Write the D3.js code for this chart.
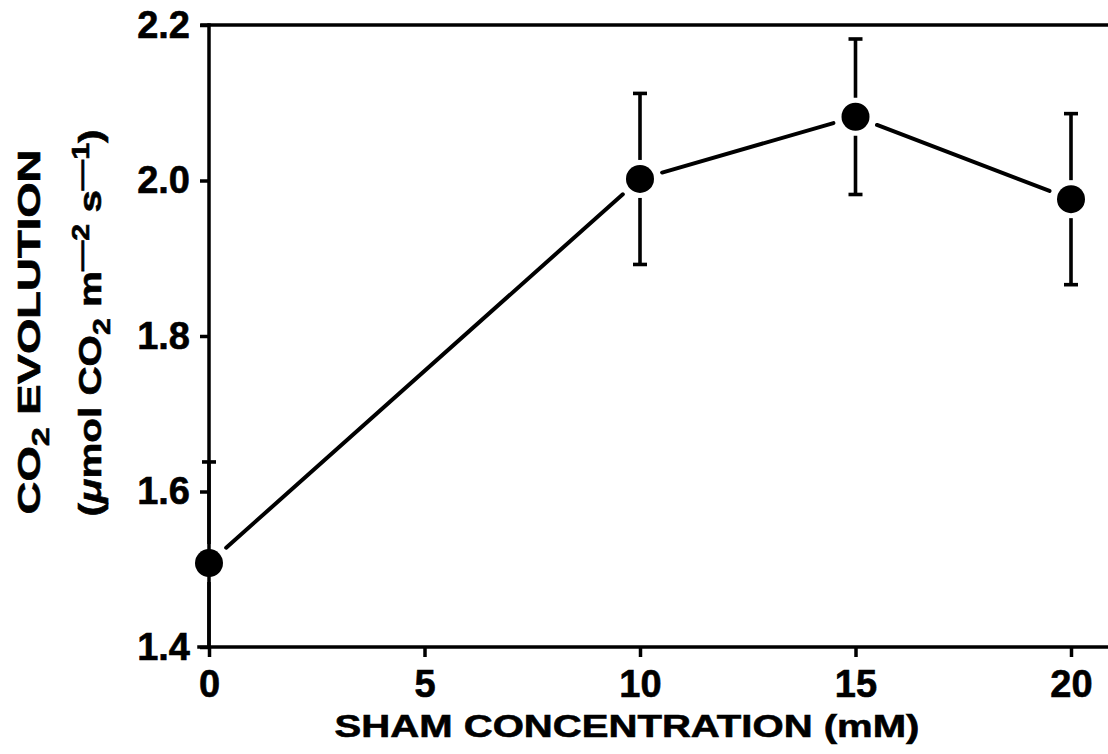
<!DOCTYPE html>
<html>
<head>
<meta charset="utf-8">
<script src="https://cdn.jsdelivr.net/npm/d3@7"></script>
<style>
  html, body { margin: 0; padding: 0; background: #fff; }
  svg { display: block; }
  text { font-family: "Liberation Sans", Arial, Helvetica, sans-serif; font-weight: bold; fill: #000; stroke: #000; stroke-width: 0.6px; }
</style>
</head>
<body>
<svg id="chart" width="1108" height="754"></svg>
<script>
// ---- data ----
const shamConc = [0, 10, 15, 20];
const co2Evolution = [1.508, 2.002, 2.082, 1.976];
const co2Error = [0.13, 0.11, 0.10, 0.11];
const xTickValues = [0, 5, 10, 15, 20];
const yTickValues = [1.4, 1.6, 1.8, 2.0, 2.2];
const xTitle = "SHAM CONCENTRATION (mM)";

// ---- layout ----
const W = 1108, H = 754;
const svg = d3.select("#chart");
const x = d3.scaleLinear().domain([0, 20]).range([209, 1071]);
const y = d3.scaleLinear().domain([1.4, 2.2]).range([647, 25]);
const axisStroke = 3.5;

// axes
const gx = svg.append("g").attr("transform", `translate(0,${y(1.4)})`)
  .call(d3.axisBottom(x).tickValues(xTickValues).tickSize(10).tickPadding(13).tickFormat(d3.format("d")));
const gy = svg.append("g").attr("transform", `translate(${x(0)},0)`)
  .call(d3.axisLeft(y).tickValues(yTickValues).tickSize(9).tickPadding(10).tickFormat(d3.format(".1f")));
[gx, gy].forEach(g => {
  g.select(".domain").remove();
  g.selectAll(".tick line").attr("stroke", "#000").attr("stroke-width", axisStroke);
  g.selectAll(".tick text").attr("font-size", 38).attr("fill", "#000");
});

// frame lines (bottom, top, left)
const frame = svg.append("g").attr("stroke", "#000").attr("stroke-width", axisStroke).attr("stroke-linecap", "square");
frame.append("line").attr("x1", x(0) - 10).attr("x2", W).attr("y1", y(1.4)).attr("y2", y(1.4));
frame.append("line").attr("x1", x(0) - 7).attr("x2", W).attr("y1", y(2.2)).attr("y2", y(2.2));
frame.append("line").attr("x1", x(0)).attr("x2", x(0)).attr("y1", y(2.2)).attr("y2", y(1.4));

// data points
const pts = shamConc.map((c, i) => ({ px: x(c), py: y(co2Evolution[i]), v: co2Evolution[i], e: co2Error[i] }));

// connecting line segments with gaps around markers
const lineGap = 23;
const seg = svg.append("g").attr("stroke", "#000").attr("stroke-width", 4).attr("stroke-linecap", "round");
for (let i = 0; i < pts.length - 1; i++) {
  const a = pts[i], b = pts[i + 1];
  const dx = b.px - a.px, dy = b.py - a.py, L = Math.hypot(dx, dy);
  const ux = dx / L, uy = dy / L;
  seg.append("line")
    .attr("x1", a.px + ux * lineGap).attr("y1", a.py + uy * lineGap)
    .attr("x2", b.px - ux * lineGap).attr("y2", b.py - uy * lineGap);
}

// error bars
const errGap = 19, capHalf = 7;
const eb = svg.append("g").attr("stroke", "#000").attr("stroke-width", 3.6);
pts.forEach(p => {
  const yTop = y(p.v + p.e);
  const yBotRaw = y(p.v - p.e);
  const yBot = Math.min(yBotRaw, y(1.4));
  eb.append("line").attr("x1", p.px).attr("x2", p.px).attr("y1", yTop).attr("y2", p.py - errGap);
  eb.append("line").attr("x1", p.px).attr("x2", p.px).attr("y1", p.py + errGap).attr("y2", yBot);
  eb.append("line").attr("x1", p.px - capHalf).attr("x2", p.px + capHalf).attr("y1", yTop).attr("y2", yTop);
  if (yBotRaw <= y(1.4)) {
    eb.append("line").attr("x1", p.px - capHalf).attr("x2", p.px + capHalf).attr("y1", yBot).attr("y2", yBot);
  }
});

// markers
svg.append("g").selectAll("circle").data(pts).join("circle")
  .attr("cx", d => d.px).attr("cy", d => d.py).attr("r", 14).attr("fill", "#000");

// helper: horizontal stretch factor to reach a target length
function stretch(textSel, target) {
  const w = textSel.node().getBBox().width;
  return w > 0 ? target / w : 1;
}

// x axis title
{
  const g = svg.append("g");
  const t = g.append("text").attr("text-anchor", "middle").attr("font-size", 32).text(xTitle);
  const sx = stretch(t, 585);
  g.attr("transform", `translate(627,737) scale(${sx},1)`);
}

// y axis title line 1: CO2 EVOLUTION
{
  const g = svg.append("g");
  const t = g.append("text").attr("text-anchor", "middle").attr("font-size", 32);
  t.append("tspan").text("CO");
  t.append("tspan").attr("font-size", 24).attr("dy", 9).text("2");
  t.append("tspan").attr("dy", -9).text(" EVOLUTION");
  const sx = stretch(t, 365);
  g.attr("transform", `translate(40,332) rotate(-90) scale(${sx},1)`);
}

// y axis title line 2: (μmol CO2 m−2 s−1)
{
  const g = svg.append("g");
  const t = g.append("text").attr("text-anchor", "middle").attr("font-size", 32);
  t.append("tspan").text("(");
  t.append("tspan").attr("font-style", "italic").text("\u03BC");
  t.append("tspan").text("mol CO");
  t.append("tspan").attr("font-size", 24).attr("dy", 9).text("2");
  t.append("tspan").attr("dy", -9).text(" m");
  t.append("tspan").attr("font-size", 24).attr("dy", -12).text("\u2014");
  t.append("tspan").attr("font-size", 24).text("2");
  t.append("tspan").attr("dy", 12).text(" s");
  t.append("tspan").attr("font-size", 24).attr("dy", -12).text("\u2014");
  t.append("tspan").attr("font-size", 24).text("1");
  t.append("tspan").attr("dy", 12).text(")");
  const sx = stretch(t, 387);
  g.attr("transform", `translate(101,323) rotate(-90) scale(${sx},1)`);
}
</script>
</body>
</html>
